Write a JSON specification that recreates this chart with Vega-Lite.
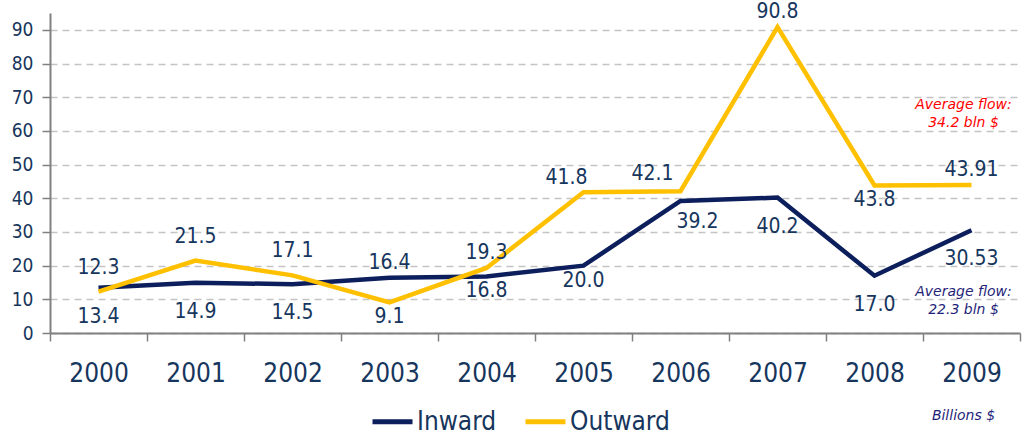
{
  "$schema": "https://vega.github.io/schema/vega-lite/v6.json",
  "autosize": "none",
  "width": 970,
  "height": 320,
  "padding": {"left": 50, "top": 13, "right": 2, "bottom": 103},
  "background": "white",
  "config": {"view": {"stroke": null}, "font": "DejaVu Sans Condensed"},
  "data": {"values": [
    {"year": "2000", "s": "Inward", "v": 13.4, "label": "13.4"},
    {"year": "2001", "s": "Inward", "v": 14.9, "label": "14.9"},
    {"year": "2002", "s": "Inward", "v": 14.5, "label": "14.5"},
    {"year": "2003", "s": "Inward", "v": 16.4, "label": "16.4"},
    {"year": "2004", "s": "Inward", "v": 16.8, "label": "16.8"},
    {"year": "2005", "s": "Inward", "v": 20.0, "label": "20.0"},
    {"year": "2006", "s": "Inward", "v": 39.2, "label": "39.2"},
    {"year": "2007", "s": "Inward", "v": 40.2, "label": "40.2"},
    {"year": "2008", "s": "Inward", "v": 17.0, "label": "17.0"},
    {"year": "2009", "s": "Inward", "v": 30.53, "label": "30.53"},
    {"year": "2000", "s": "Outward", "v": 12.3, "label": "12.3"},
    {"year": "2001", "s": "Outward", "v": 21.5, "label": "21.5"},
    {"year": "2002", "s": "Outward", "v": 17.1, "label": "17.1"},
    {"year": "2003", "s": "Outward", "v": 9.1, "label": "9.1"},
    {"year": "2004", "s": "Outward", "v": 19.3, "label": "19.3"},
    {"year": "2005", "s": "Outward", "v": 41.8, "label": "41.8"},
    {"year": "2006", "s": "Outward", "v": 42.1, "label": "42.1"},
    {"year": "2007", "s": "Outward", "v": 90.8, "label": "90.8"},
    {"year": "2008", "s": "Outward", "v": 43.8, "label": "43.8"},
    {"year": "2009", "s": "Outward", "v": 43.91, "label": "43.91"}
  ]},
  "encoding": {
    "x": {
      "field": "year", "type": "nominal", "sort": null,
      "scale": {"type": "band", "paddingInner": 0, "paddingOuter": 0},
      "axis": {
        "title": null, "tickBand": "extent", "domainColor": "#808080", "domainWidth": 2,
        "tickColor": "#808080", "tickWidth": 1.5, "tickSize": 8,
        "labelFont": "DejaVu Sans Condensed", "labelFontSize": 26, "labelColor": "#17365d",
        "labelPadding": 19, "labelAngle": 0, "grid": false
      }
    },
    "y": {
      "field": "v", "type": "quantitative",
      "scale": {"domain": [0, 95], "nice": false, "zero": true},
      "axis": {
        "title": null, "values": [0, 10, 20, 30, 40, 50, 60, 70, 80, 90],
        "domainColor": "#808080", "domainWidth": 2, "tickColor": "#808080", "tickWidth": 1.5, "tickSize": 8,
        "labelFontSize": 19, "labelColor": "#17365d", "labelPadding": 9,
        "grid": true, "gridColor": "#c4c4c4", "gridDash": [7, 5], "gridWidth": 1.5
      }
    }
  },
  "layer": [
    {
      "mark": {"type": "line", "strokeWidth": 4.5},
      "encoding": {
        "color": {
          "field": "s", "type": "nominal",
          "scale": {"domain": ["Inward", "Outward"], "range": ["#0c1f5c", "#ffc000"]},
          "legend": {
            "title": null, "orient": "none", "direction": "horizontal",
            "legendX": 320, "legendY": 386,
            "symbolType": "stroke", "symbolSize": 1600, "symbolStrokeWidth": 5,
            "labelFontSize": 26, "labelColor": "#17365d", "labelOffset": 2,
            "columnPadding": 18
          }
        }
      }
    },
    {
      "transform": [{"filter": "datum.s == 'Outward' && (datum.year == '2000' || datum.year == '2001' || datum.year == '2002')"}],
      "mark": {"type": "text", "fontSize": 21, "color": "#17365d", "dy": -24, "baseline": "middle"},
      "encoding": {"text": {"field": "label"}}
    },
    {
      "transform": [{"filter": "(datum.s == 'Inward' && datum.year == '2003') || (datum.s == 'Outward' && (datum.year == '2004' || datum.year == '2007' || datum.year == '2009'))"}],
      "mark": {"type": "text", "fontSize": 21, "color": "#17365d", "dy": -15, "baseline": "middle"},
      "encoding": {"text": {"field": "label"}}
    },
    {
      "transform": [{"filter": "datum.s == 'Outward' && datum.year == '2005'"}],
      "mark": {"type": "text", "fontSize": 21, "color": "#17365d", "dy": -14, "dx": -17, "baseline": "middle"},
      "encoding": {"text": {"field": "label"}}
    },
    {
      "transform": [{"filter": "datum.s == 'Outward' && datum.year == '2006'"}],
      "mark": {"type": "text", "fontSize": 21, "color": "#17365d", "dy": -17, "dx": -28, "baseline": "middle"},
      "encoding": {"text": {"field": "label"}}
    },
    {
      "transform": [{"filter": "(datum.s == 'Outward' && (datum.year == '2003' || datum.year == '2008')) || (datum.s == 'Inward' && (datum.year == '2004' || datum.year == '2005'))"}],
      "mark": {"type": "text", "fontSize": 21, "color": "#17365d", "dy": 15, "baseline": "middle"},
      "encoding": {"text": {"field": "label"}}
    },
    {
      "transform": [{"filter": "datum.s == 'Inward' && datum.year == '2006'"}],
      "mark": {"type": "text", "fontSize": 21, "color": "#17365d", "dy": 21, "dx": 17, "baseline": "middle"},
      "encoding": {"text": {"field": "label"}}
    },
    {
      "transform": [{"filter": "datum.s == 'Inward' && (datum.year == '2000' || datum.year == '2001' || datum.year == '2002' || datum.year == '2007' || datum.year == '2008' || datum.year == '2009')"}],
      "mark": {"type": "text", "fontSize": 21, "color": "#17365d", "dy": 29, "baseline": "middle"},
      "encoding": {"text": {"field": "label"}}
    },
    {
      "data": {"values": [{"year": "2009", "v": 67.7, "t": ["Average flow:", "34.2 bln $"]}]},
      "mark": {"type": "text", "font": "DejaVu Sans", "fontSize": 14, "fontStyle": "italic", "color": "#ff0000", "dx": -8, "baseline": "middle", "lineHeight": 18},
      "encoding": {"text": {"field": "t"}}
    },
    {
      "data": {"values": [{"year": "2009", "v": 12.2, "t": ["Average flow:", "22.3 bln $"]}]},
      "mark": {"type": "text", "font": "DejaVu Sans", "fontSize": 14, "fontStyle": "italic", "color": "#1f1f7a", "dx": -8, "baseline": "middle", "lineHeight": 18},
      "encoding": {"text": {"field": "t"}}
    },
    {
      "data": {"values": [{"year": "2009", "v": -24.6, "t": "Billions $"}]},
      "mark": {"type": "text", "font": "DejaVu Sans", "fontSize": 14, "fontStyle": "italic", "color": "#1f1f7a", "dx": -8, "baseline": "middle"},
      "encoding": {"text": {"field": "t"}}
    }
  ]
}
